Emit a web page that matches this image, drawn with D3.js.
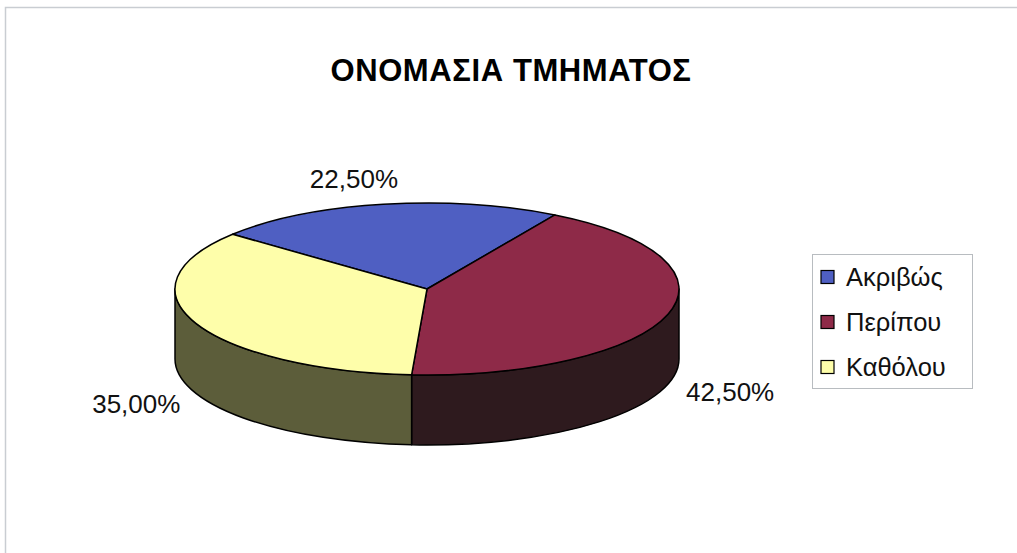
<!DOCTYPE html>
<html>
<head>
<meta charset="utf-8">
<title>ΟΝΟΜΑΣΙΑ ΤΜΗΜΑΤΟΣ</title>
<script src="https://cdnjs.cloudflare.com/ajax/libs/d3/7.8.5/d3.min.js"></script>
<style>
body { margin: 0; background: #fff; }
text { font-family: Arial, "Liberation Sans", sans-serif; }
</style>
</head>
<body>
<div id="chart"></div>
<script>
// values
var categories = ["Ακριβώς", "Περίπου", "Καθόλου"];
var values = [22.5, 42.5, 35.0];
var title = "ΟΝΟΜΑΣΙΑ ΤΜΗΜΑΤΟΣ";

var w = 1017, h = 553;
var cx = 427, cy = 289, rx = 252, ry = 86, depth = 70;
var startAngle = -50.5 * Math.PI / 180;

var topColor = d3.scaleOrdinal(categories, ["#4f5fc2", "#8e2a48", "#fefeaa"]);
var sideColor = d3.scaleOrdinal(categories, ["#28306a", "#2e1a1e", "#5c5d3a"]);

var greek = d3.formatLocale({decimal: ",", thousands: ".", grouping: [3], currency: ["", "€"]});
var pct = greek.format(".2f");

var svg = d3.select("#chart").append("svg")
    .attr("width", w)
    .attr("height", h);

// faint frame, only top and left edges show
svg.append("path")
   .attr("d", "M5.5," + h + "V7.5H" + w)
   .attr("fill", "none")
   .attr("stroke", "#c9cdd2")
   .attr("stroke-width", 1.5);

svg.append("text")
   .attr("x", 511)
   .attr("y", 81)
   .attr("text-anchor", "middle")
   .attr("font-size", "31px")
   .attr("font-weight", "bold")
   .attr("letter-spacing", "0.6px")
   .text(title);

var pie = d3.pie()
    .sort(null)
    .startAngle(startAngle)
    .endAngle(startAngle + 2 * Math.PI);
var arcs = pie(values);

// point on the pie's rim, angle measured clockwise from 12 o'clock
function pt(a, dy) {
    return [cx + rx * Math.sin(a), cy - ry * Math.cos(a) + (dy || 0)];
}

function topPath(d) {
    var large = d.endAngle - d.startAngle > Math.PI ? 1 : 0;
    return "M" + cx + "," + cy + "L" + pt(d.startAngle) +
           "A" + rx + "," + ry + " 0 " + large + " 1 " + pt(d.endAngle) + "Z";
}

function wallPath(a0, a1) {
    return "M" + pt(a0) + "A" + rx + "," + ry + " 0 0 1 " + pt(a1) +
           "L" + pt(a1, depth) + "A" + rx + "," + ry + " 0 0 0 " + pt(a0, depth) + "Z";
}

// front walls first (only the half facing us)
arcs.forEach(function(d, i) {
    var a0 = Math.max(d.startAngle, Math.PI / 2);
    var a1 = Math.min(d.endAngle, 3 * Math.PI / 2);
    if (a1 > a0) {
        svg.append("path")
           .attr("d", wallPath(a0, a1))
           .attr("fill", sideColor(categories[i]))
           .attr("stroke", "#000")
           .attr("stroke-width", 1.5)
           .attr("stroke-linejoin", "round");
    }
});

svg.selectAll(".slice")
   .data(arcs)
   .enter().append("path")
   .attr("class", "slice")
   .attr("d", topPath)
   .attr("fill", (d, i) => topColor(categories[i]))
   .attr("stroke", "#000")
   .attr("stroke-width", 1.5)
   .attr("stroke-linejoin", "round");

// data labels outside the rim
svg.selectAll(".lbl")
   .data(arcs)
   .enter().append("text")
   .attr("class", "lbl")
   .attr("x", d => {
       var m = (d.startAngle + d.endAngle) / 2;
       return cx + (rx + 65) * Math.sin(m) - (Math.abs(Math.sin(m)) < 0.5 ? 18 : 0);
   })
   .attr("y", d => {
       var m = (d.startAngle + d.endAngle) / 2;
       return cy - (ry + 26) * Math.cos(m) + (Math.cos(m) < 0 ? depth : 0);
   })
   .attr("text-anchor", "middle")
   .attr("dominant-baseline", "central")
   .attr("font-size", "26px")
   .attr("fill", "#111")
   .text(d => pct(d.value) + "%");

// legend
var legend = svg.append("g").attr("transform", "translate(812,254)");
legend.append("rect")
   .attr("x", 0.5).attr("y", 0.5)
   .attr("width", 160).attr("height", 134)
   .attr("fill", "#fff")
   .attr("stroke", "#b8bcc0")
   .attr("stroke-width", 1);

var rows = legend.selectAll(".row")
   .data(categories)
   .enter().append("g")
   .attr("class", "row")
   .attr("transform", (d, i) => "translate(0," + (23 + i * 45) + ")");

rows.append("rect")
   .attr("x", 9).attr("y", -6.5)
   .attr("width", 13).attr("height", 13)
   .attr("fill", d => topColor(d))
   .attr("stroke", "#000")
   .attr("stroke-width", 1.2);

rows.append("text")
   .attr("x", 34)
   .attr("y", 0)
   .attr("dominant-baseline", "central")
   .attr("font-size", "25.5px")
   .attr("fill", "#111")
   .text(d => d);
</script>
</body>
</html>
